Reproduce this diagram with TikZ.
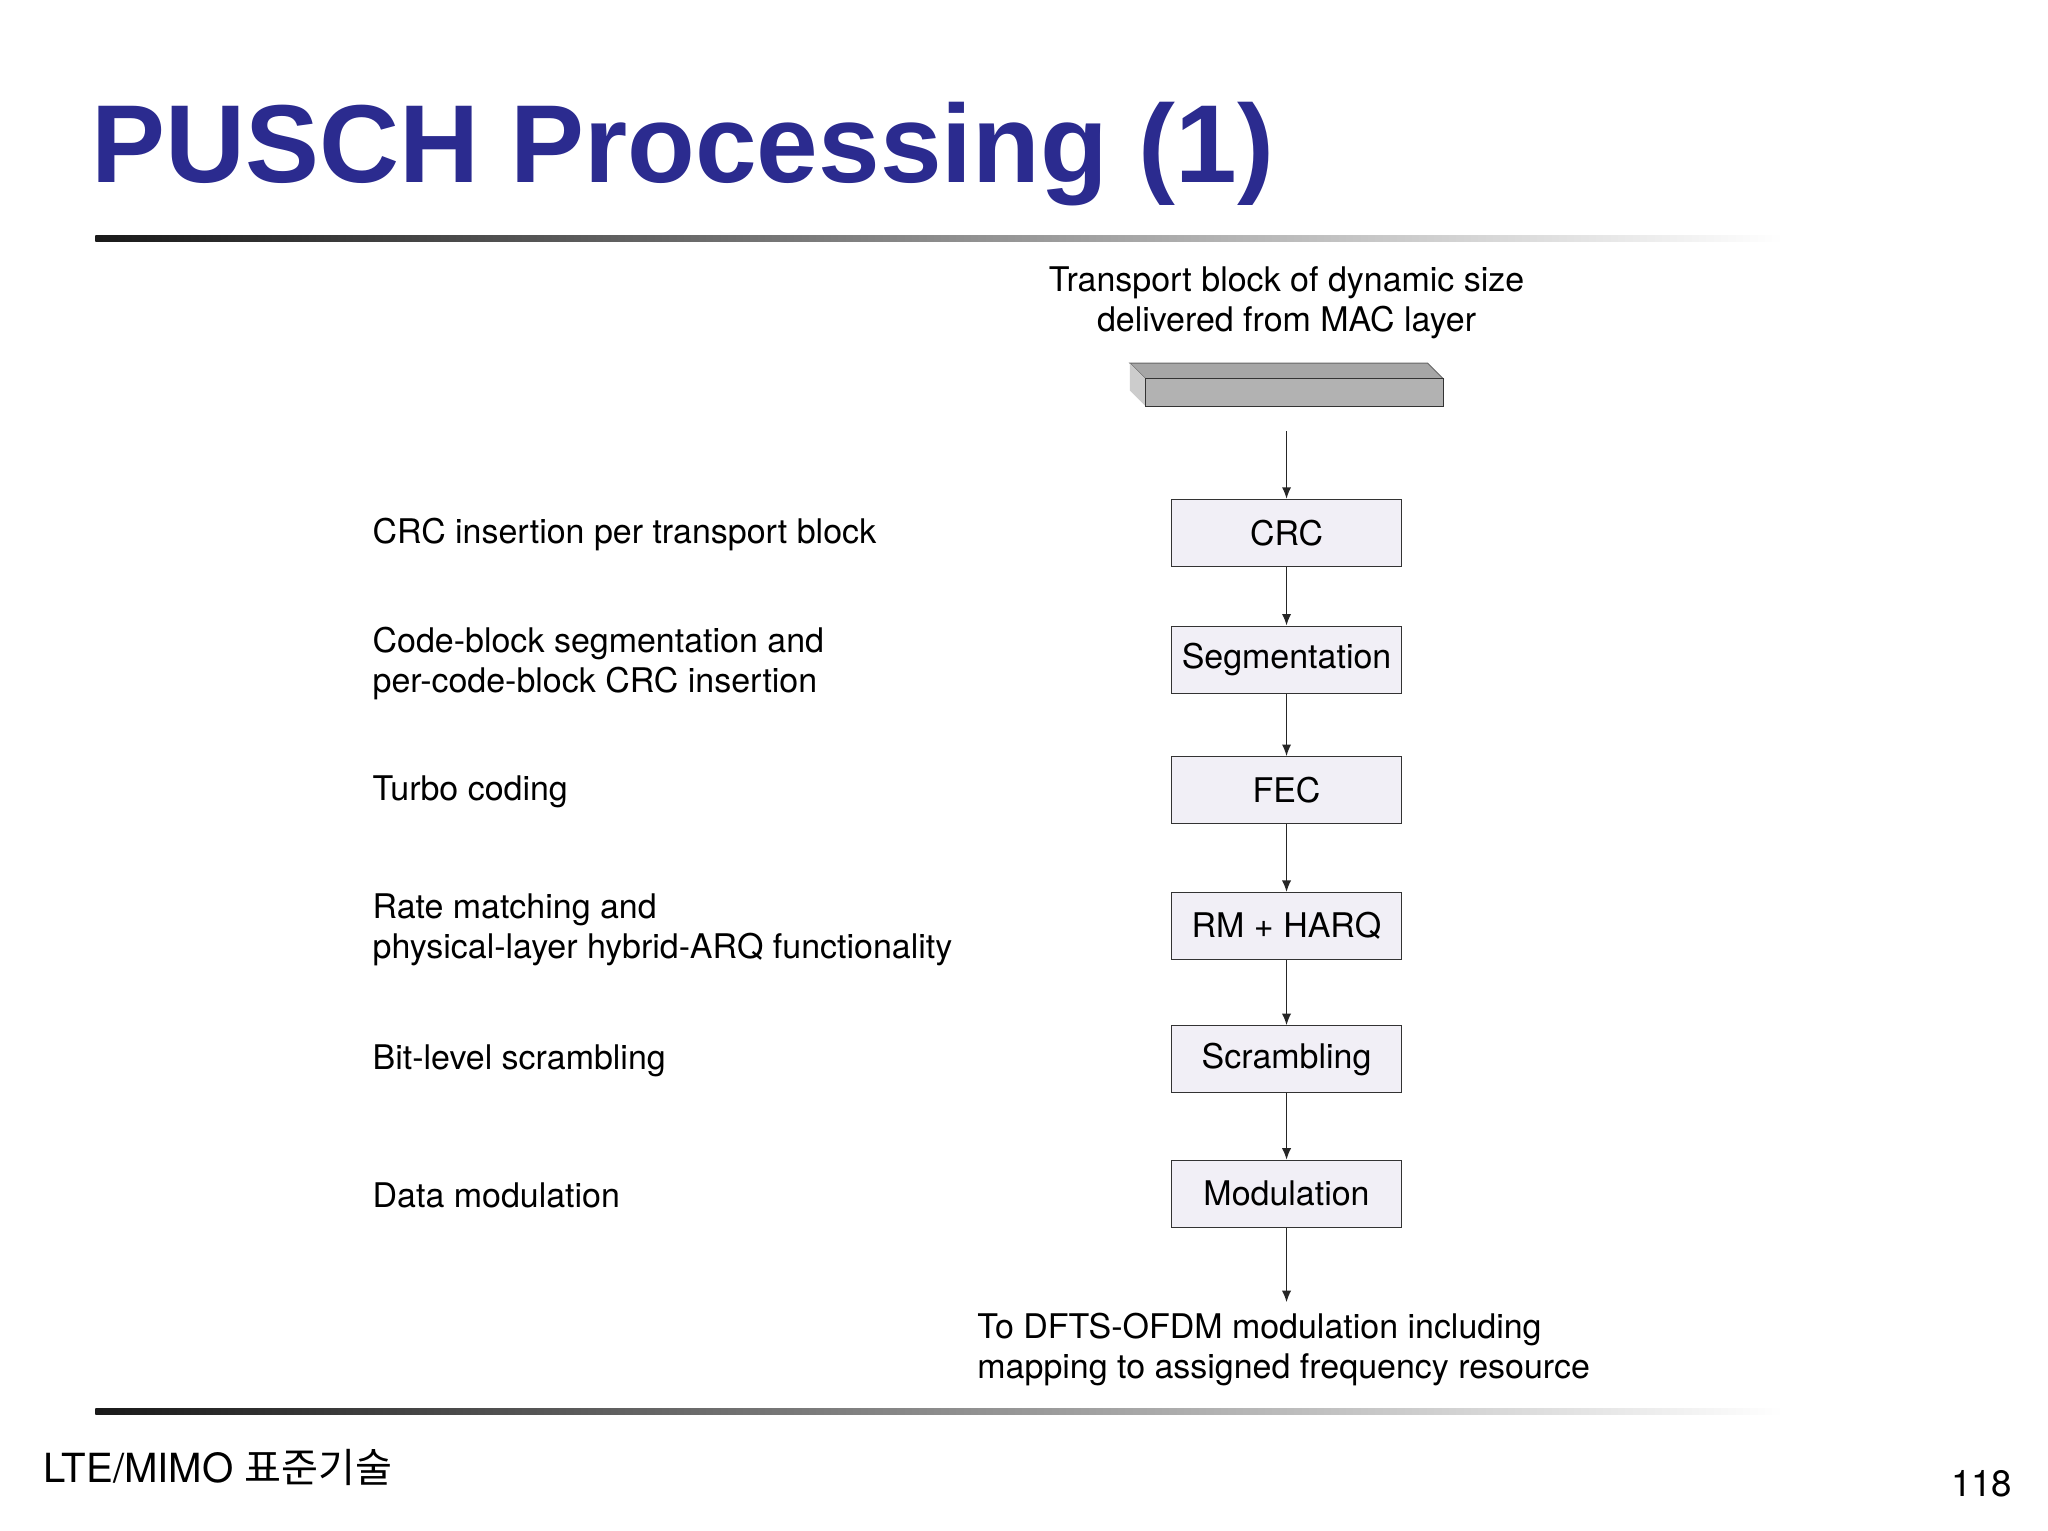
\documentclass[tikz,border=0pt]{standalone}
\usetikzlibrary{arrows.meta}
\usepackage{fontspec}
\setmainfont{TeX Gyre Heros}
\newfontfamily\kr{Noto Sans CJK KR}
\newfontfamily\ttl{Liberation Sans}
\definecolor{ttlblue}{HTML}{2B2B8F}
\definecolor{boxfill}{HTML}{F1EFF6}
\begin{document}
\begin{tikzpicture}[x=0.02cm,y=-0.02cm,
  blk/.style={draw=black!80,fill=boxfill,minimum width=3.52cm,minimum height=1.03cm,font=\fontsize{14.8}{17}\selectfont,inner sep=0pt},
  lbl/.style={anchor=west,align=left,font=\fontsize{14.8}{17.6}\selectfont,inner sep=0pt},
  arr/.style={-{Latex[length=5pt,width=4pt]},black!85,line width=0.6pt}]
\useasboundingbox (0,0) rectangle (1568,1172);
\fill[white] (0,0) rectangle (1568,1172);
\node[anchor=base west,inner sep=0pt,text=ttlblue,font=\ttl\bfseries\fontsize{48.3}{56}\selectfont] (title) at (70,140) {PUSCH Processing (1)};
\shade[left color=black!90,right color=white] (73,180) rectangle (1365,185);
\shade[left color=black!90,right color=white] (73,1078) rectangle (1365,1083);
\node[align=center,font=\fontsize{14.8}{17.6}\selectfont] (tb) at (985,232) {Transport block of dynamic size\\delivered from MAC layer};
\fill[black!35,draw=black!60,line width=0.4pt] (865,278) -- (1093,278) -- (1105,290) -- (877,290) -- cycle;
\fill[black!20] (865,278) -- (877,290) -- (877,311) -- (865,299) -- cycle;
\fill[black!30,draw=black!80,line width=0.5pt] (877,290) rectangle (1105,311);
\coordinate (src) at (985,330);
\node[blk] (crc) at (985,408) {CRC};
\node[blk] (seg) at (985,505) {Segmentation};
\node[blk] (fec) at (985,605) {FEC};
\node[blk] (rm) at (985,709) {RM + HARQ};
\node[blk] (scr) at (985,811) {Scrambling};
\node[blk] (mod) at (985,914) {Modulation};
\coordinate (out) at (985,997);
\draw[arr] (src) -- (crc);
\draw[arr] (crc) -- (seg);
\draw[arr] (seg) -- (fec);
\draw[arr] (fec) -- (rm);
\draw[arr] (rm) -- (scr);
\draw[arr] (scr) -- (mod);
\draw[arr] (mod) -- (out);
\node[lbl] (l1) at (285,409) {CRC insertion per transport block};
\node[lbl] (l2) at (285,508) {Code-block segmentation and\\per-code-block CRC insertion};
\node[lbl] (l3) at (285,606) {Turbo coding};
\node[lbl] (l4) at (285,712) {Rate matching and\\physical-layer hybrid-ARQ functionality};
\node[lbl] (l5) at (285,812) {Bit-level scrambling};
\node[lbl] (l6) at (285,915) {Data modulation};
\node[lbl] (ofdm) at (748,1033) {To DFTS-OFDM modulation including\\mapping to assigned frequency resource};
\node[anchor=base west,inner sep=0pt,font=\fontsize{17.5}{20}\selectfont] (foot) at (33,1135) {LTE/MIMO {\kr 표준기술}};
\node[anchor=base east,inner sep=0pt,font=\fontsize{16}{19}\selectfont] (pg) at (1541,1146) {118};
\end{tikzpicture}
\end{document}
